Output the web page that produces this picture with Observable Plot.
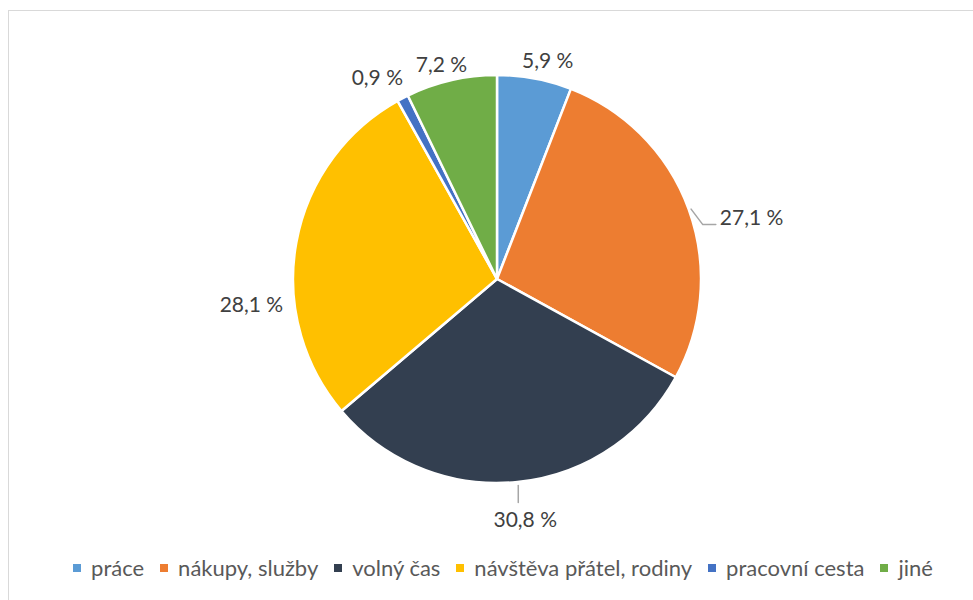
<!DOCTYPE html>
<html><head><meta charset="utf-8">
<script src="https://cdn.jsdelivr.net/npm/d3@7"></script>
<script src="https://cdn.jsdelivr.net/npm/@observablehq/plot@0.6"></script>
<style>
html,body{margin:0;padding:0;background:#fff;overflow:hidden;}
#wrap{position:relative;width:973px;height:600px;font-family:Lato,sans-serif;}
#frame{position:absolute;left:8px;top:10px;width:1000px;height:1000px;border:1.5px solid #d9d9d9;box-sizing:border-box;}
#chart{position:absolute;left:0;top:0;}
.legend{position:absolute;left:0;top:556px;width:973px;padding-left:33px;box-sizing:border-box;display:flex;justify-content:center;align-items:center;font-size:22px;line-height:24px;color:#595959;}
.item{display:flex;align-items:center;margin:0 8px;}
.sw{width:8px;height:8px;margin-right:10px;}
</style></head>
<body><div id="wrap"><div id="frame"></div><div id="chart"></div><div class="legend" id="legend"></div></div>
<script>
// ---- data ----
const categories = ["práce", "nákupy, služby", "volný čas", "návštěva přátel, rodiny", "pracovní cesta", "jiné"];
const shares = [5.9, 27.1, 30.8, 28.1, 0.9, 7.2];
const valueLabels = ["5,9 %", "27,1 %", "30,8 %", "28,1 %", "0,9 %", "7,2 %"];
const palette = ["#5B9BD5", "#ED7D31", "#333F50", "#FFC000", "#4472C4", "#70AD47"];

// ---- label layout (style) ----
const labelLayout = [
  {gap: 6.5, turn: 2.3},
  {gap: 24.5, turn: 6.5, leader: "elbow"},
  {gap: 27, turn: -0.8, leader: "down"},
  {gap: 11, turn: -16.3},
  {gap: 10, turn: -3.3},
  {gap: 3, turn: -1.7}
];

const xOpts = {domain: [-1, 1], range: [293, 701]};
const yOpts = {domain: [-1, 1], range: [483, 75]};
const xs = Plot.scale({x: xOpts});
const ys = Plot.scale({y: yOpts});
const color = Plot.scale({color: {type: "ordinal", domain: categories, range: palette}});
const R = xs.apply(1) - xs.apply(0); // px per unit (= radius)

const rows = categories.map((c, i) => ({cat: c, value: shares[i], label: valueLabels[i]}));
const arcs = d3.pie().sort(null).value(d => d.value)(rows);

// label positions derived from slice angles
const labelData = [];
const leaderData = [];
arcs.forEach((a, i) => {
  const L = labelLayout[i];
  const mid = (a.startAngle + a.endAngle) / 2;
  const th = mid + L.turn * Math.PI / 180;
  const halfW = a.data.label.length * 5.3, halfH = 8;
  const dist = R + L.gap + Math.abs(Math.sin(th)) * halfW + Math.abs(Math.cos(th)) * halfH;
  const lx = dist * Math.sin(th), ly = dist * Math.cos(th); // px, y up
  labelData.push({x: lx / R, y: ly / R, text: a.data.label});
  if (L.leader === "down") {
    const sx = (R + 3) * Math.sin(mid), sy = (R + 3) * Math.cos(mid);
    leaderData.push({id: i, x: sx / R, y: sy / R});
    leaderData.push({id: i, x: sx / R, y: (ly + halfH + 10) / R});
  } else if (L.leader === "elbow") {
    const sx = (R + 2) * Math.sin(mid), sy = (R + 2) * Math.cos(mid);
    const ex = lx - halfW - 4, ey = ly - 6;
    leaderData.push({id: i, x: sx / R, y: sy / R});
    leaderData.push({id: i, x: (ex - 13) / R, y: ey / R});
    leaderData.push({id: i, x: ex / R, y: ey / R});
  }
});

function pieMark() {
  const cx = xs.apply(0), cy = ys.apply(0);
  const g = d3.create("svg:g").attr("transform", `translate(${cx},${cy})`);
  g.selectAll("path").data(arcs).join("path")
    .attr("d", d3.arc().innerRadius(0).outerRadius(R))
    .attr("fill", d => color.apply(d.data.cat))
    .attr("stroke", "#fff").attr("stroke-width", 2.5).attr("stroke-linejoin", "round");
  return g.node();
}

const chart = Plot.plot({
  width: 973, height: 550, margin: 0,
  x: {...xOpts, axis: null},
  y: {...yOpts, axis: null},
  style: {fontFamily: "Lato, sans-serif", background: "transparent"},
  marks: [
    pieMark,
    Plot.line(leaderData, {x: "x", y: "y", z: "id", stroke: "#a6a6a6", strokeWidth: 1.5, curve: "linear"}),
    Plot.text(labelData, {x: "x", y: "y", text: "text", fill: "#404040", fontSize: 21, textAnchor: "middle", lineAnchor: "middle"})
  ]
});
document.getElementById("chart").appendChild(chart);

const lg = d3.select("#legend");
categories.forEach(c => {
  const it = lg.append("div").attr("class", "item");
  it.append("div").attr("class", "sw").style("background", color.apply(c));
  it.append("span").text(c);
});
</script></body></html>
